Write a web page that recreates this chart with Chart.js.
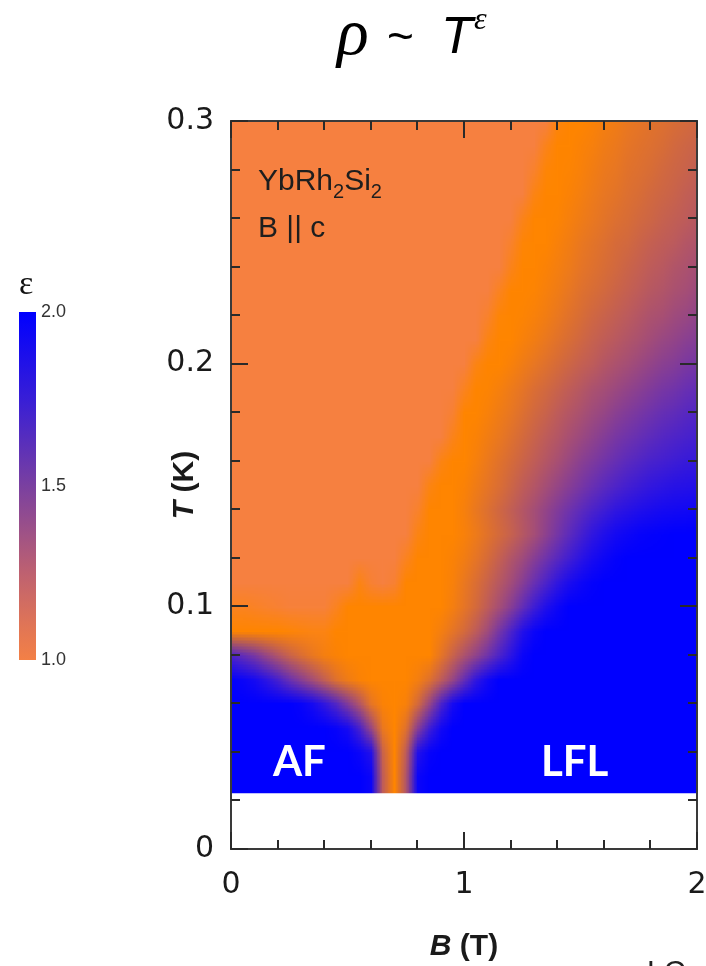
<!DOCTYPE html>
<html><head><meta charset="utf-8">
<script src="https://cdn.jsdelivr.net/npm/chart.js@4.4.1/dist/chart.umd.min.js"></script>
<style>html,body{margin:0;padding:0;background:#fff;}canvas{display:block}</style>
</head><body>
<canvas id="c" width="706" height="966"></canvas>
<script>
// ---- DATA ----
const fieldB = [0,0.05,0.1,0.15,0.2,0.25,0.3,0.35,0.4,0.45,0.5,0.55,0.6,0.65,0.7,0.75,0.8,0.85,0.9,0.95,1.0,1.05,1.1,1.15,1.2,1.25,1.3,1.35,1.4,1.45,1.5,1.55,1.6,1.65,1.7,1.75,1.8,1.85,1.9,1.95,2.0];
const temperatureT = [0.30,0.29,0.28,0.27,0.26,0.25,0.24,0.23,0.22,0.21,0.20,0.19,0.18,0.17,0.16,0.15,0.14,0.13,0.12,0.11,0.10,0.09,0.08,0.07,0.06,0.05,0.04,0.03,0.02];
// exponent epsilon, one row per temperature (top row = 0.30 K); values below 1 = region above the orange fan
const epsilon = [
 [0.9,0.9,0.9,0.9,0.9,0.9,0.9,0.9,0.9,0.9,0.9,0.9,0.9,0.9,0.9,0.9,0.9,0.9,0.9,0.9,0.9,0.9,0.9,0.9,0.9,0.9,0.9,0.9,0.98,1.0,1.0,1.02,1.05,1.07,1.1,1.12,1.14,1.16,1.18,1.2,1.22],
 [0.9,0.9,0.9,0.9,0.9,0.9,0.9,0.9,0.9,0.9,0.9,0.9,0.9,0.9,0.9,0.9,0.9,0.9,0.9,0.9,0.9,0.9,0.9,0.9,0.9,0.9,0.9,0.96,1.0,1.0,1.02,1.04,1.07,1.09,1.12,1.14,1.16,1.18,1.21,1.23,1.25],
 [0.9,0.9,0.9,0.9,0.9,0.9,0.9,0.9,0.9,0.9,0.9,0.9,0.9,0.9,0.9,0.9,0.9,0.9,0.9,0.9,0.9,0.9,0.9,0.9,0.9,0.9,0.93,0.99,1.0,1.01,1.03,1.06,1.09,1.11,1.14,1.16,1.18,1.21,1.23,1.25,1.28],
 [0.9,0.9,0.9,0.9,0.9,0.9,0.9,0.9,0.9,0.9,0.9,0.9,0.9,0.9,0.9,0.9,0.9,0.9,0.9,0.9,0.9,0.9,0.9,0.9,0.9,0.9,0.97,1.0,1.0,1.02,1.05,1.08,1.11,1.13,1.16,1.18,1.21,1.23,1.25,1.28,1.3],
 [0.9,0.9,0.9,0.9,0.9,0.9,0.9,0.9,0.9,0.9,0.9,0.9,0.9,0.9,0.9,0.9,0.9,0.9,0.9,0.9,0.9,0.9,0.9,0.9,0.9,0.96,1.0,1.0,1.01,1.04,1.07,1.1,1.13,1.16,1.18,1.21,1.23,1.26,1.28,1.3,1.33],
 [0.9,0.9,0.9,0.9,0.9,0.9,0.9,0.9,0.9,0.9,0.9,0.9,0.9,0.9,0.9,0.9,0.9,0.9,0.9,0.9,0.9,0.9,0.9,0.9,0.93,0.99,1.0,1.0,1.03,1.06,1.1,1.13,1.16,1.19,1.21,1.24,1.27,1.29,1.31,1.34,1.36],
 [0.9,0.9,0.9,0.9,0.9,0.9,0.9,0.9,0.9,0.9,0.9,0.9,0.9,0.9,0.9,0.9,0.9,0.9,0.9,0.9,0.9,0.9,0.9,0.9,0.96,1.0,1.0,1.02,1.05,1.08,1.12,1.15,1.18,1.21,1.24,1.27,1.3,1.32,1.35,1.37,1.4],
 [0.9,0.9,0.9,0.9,0.9,0.9,0.9,0.9,0.9,0.9,0.9,0.9,0.9,0.9,0.9,0.9,0.9,0.9,0.9,0.9,0.9,0.9,0.9,0.95,1.0,1.0,1.01,1.04,1.07,1.11,1.15,1.18,1.21,1.24,1.27,1.3,1.33,1.35,1.38,1.4,1.43],
 [0.9,0.9,0.9,0.9,0.9,0.9,0.9,0.9,0.9,0.9,0.9,0.9,0.9,0.9,0.9,0.9,0.9,0.9,0.9,0.9,0.9,0.9,0.93,0.99,1.0,1.01,1.03,1.06,1.1,1.14,1.18,1.22,1.25,1.28,1.31,1.34,1.37,1.39,1.42,1.44,1.47],
 [0.9,0.9,0.9,0.9,0.9,0.9,0.9,0.9,0.9,0.9,0.9,0.9,0.9,0.9,0.9,0.9,0.9,0.9,0.9,0.9,0.9,0.9,0.97,1.0,1.0,1.03,1.06,1.1,1.14,1.18,1.22,1.26,1.29,1.32,1.35,1.38,1.41,1.44,1.46,1.49,1.51],
 [0.9,0.9,0.9,0.9,0.9,0.9,0.9,0.9,0.9,0.9,0.9,0.9,0.9,0.9,0.9,0.9,0.9,0.9,0.9,0.9,0.9,0.97,1.0,1.0,1.03,1.07,1.11,1.15,1.19,1.23,1.27,1.3,1.34,1.37,1.4,1.43,1.46,1.49,1.51,1.54,1.56],
 [0.9,0.9,0.9,0.9,0.9,0.9,0.9,0.9,0.9,0.9,0.9,0.9,0.9,0.9,0.9,0.9,0.9,0.9,0.9,0.9,0.95,1.0,1.01,1.04,1.08,1.12,1.17,1.21,1.25,1.29,1.33,1.37,1.4,1.43,1.46,1.49,1.52,1.55,1.57,1.6,1.62],
 [0.9,0.9,0.9,0.9,0.9,0.9,0.9,0.9,0.9,0.9,0.9,0.9,0.9,0.9,0.9,0.9,0.9,0.9,0.9,0.92,1.0,1.0,1.03,1.07,1.11,1.16,1.21,1.25,1.3,1.34,1.38,1.42,1.45,1.49,1.52,1.55,1.58,1.61,1.63,1.66,1.68],
 [0.9,0.9,0.9,0.9,0.9,0.9,0.9,0.9,0.9,0.9,0.9,0.9,0.9,0.9,0.9,0.9,0.9,0.9,0.9,0.96,1.0,1.02,1.06,1.1,1.15,1.2,1.25,1.3,1.34,1.39,1.43,1.47,1.51,1.55,1.58,1.61,1.64,1.67,1.69,1.71,1.73],
 [0.9,0.9,0.9,0.9,0.9,0.9,0.9,0.9,0.9,0.9,0.9,0.9,0.9,0.9,0.9,0.9,0.9,0.9,0.97,1.0,1.0,1.04,1.09,1.14,1.19,1.24,1.29,1.34,1.39,1.44,1.49,1.53,1.57,1.61,1.65,1.68,1.71,1.73,1.75,1.77,1.78],
 [0.9,0.9,0.9,0.9,0.9,0.9,0.9,0.9,0.9,0.9,0.9,0.9,0.9,0.9,0.9,0.9,0.9,0.97,1.0,1.0,1.02,1.07,1.12,1.17,1.23,1.29,1.34,1.4,1.45,1.5,1.55,1.6,1.65,1.69,1.73,1.76,1.79,1.81,1.83,1.84,1.85],
 [0.9,0.9,0.9,0.9,0.9,0.9,0.9,0.9,0.9,0.9,0.9,0.9,0.9,0.9,0.9,0.9,0.93,1.0,1.0,1.0,1.04,1.1,1.16,1.22,1.28,1.34,1.4,1.46,1.52,1.58,1.64,1.7,1.75,1.8,1.83,1.86,1.88,1.9,1.91,1.92,1.93],
 [0.9,0.9,0.9,0.9,0.9,0.9,0.9,0.9,0.9,0.9,0.9,0.9,0.9,0.9,0.9,0.9,0.97,1.0,1.0,1.0,1.03,1.08,1.14,1.2,1.26,1.33,1.4,1.48,1.56,1.64,1.72,1.8,1.86,1.91,1.94,1.97,1.98,1.99,2.0,2.0,2.0],
 [0.9,0.9,0.9,0.9,0.9,0.9,0.9,0.9,0.9,0.9,0.9,0.9,0.9,0.9,0.9,0.95,1.0,1.0,1.0,1.02,1.06,1.12,1.19,1.27,1.35,1.42,1.5,1.58,1.66,1.74,1.82,1.89,1.94,1.98,2.0,2.0,2.0,2.0,2.0,2.0,2.0],
 [0.9,0.9,0.9,0.9,0.9,0.9,0.9,0.9,0.9,0.9,0.9,0.97,0.92,0.9,0.92,1.0,1.0,1.0,1.0,1.03,1.1,1.17,1.25,1.33,1.41,1.5,1.6,1.7,1.8,1.88,1.94,1.98,2.0,2.0,2.0,2.0,2.0,2.0,2.0,2.0,2.0],
 [0.95,0.95,0.94,0.93,0.92,0.91,0.91,0.91,0.91,0.95,1.0,1.0,1.0,1.0,1.0,1.0,1.0,1.0,1.0,1.05,1.12,1.2,1.3,1.4,1.5,1.62,1.75,1.86,1.94,2.0,2.0,2.0,2.0,2.0,2.0,2.0,2.0,2.0,2.0,2.0,2.0],
 [1.0,1.0,1.0,1.0,1.0,0.99,0.98,0.97,0.97,1.0,1.0,1.0,1.0,1.0,1.0,1.0,1.0,1.0,1.05,1.12,1.2,1.3,1.42,1.56,1.7,1.85,1.95,2.0,2.0,2.0,2.0,2.0,2.0,2.0,2.0,2.0,2.0,2.0,2.0,2.0,2.0],
 [1.7,1.62,1.55,1.45,1.35,1.25,1.17,1.1,1.05,1.02,1.0,1.0,1.0,1.0,1.0,1.0,1.0,1.0,1.12,1.25,1.37,1.47,1.58,1.7,1.82,1.95,2.0,2.0,2.0,2.0,2.0,2.0,2.0,2.0,2.0,2.0,2.0,2.0,2.0,2.0,2.0],
 [1.98,1.95,1.9,1.82,1.72,1.6,1.5,1.4,1.28,1.15,1.07,1.02,1.0,1.0,1.0,1.0,1.05,1.15,1.3,1.45,1.62,1.8,1.92,2.0,2.0,2.0,2.0,2.0,2.0,2.0,2.0,2.0,2.0,2.0,2.0,2.0,2.0,2.0,2.0,2.0,2.0],
 [2.0,2.0,2.0,2.0,2.0,2.0,1.97,1.9,1.8,1.68,1.52,1.35,1.12,1.02,1.0,1.03,1.2,1.45,1.7,1.9,2.0,2.0,2.0,2.0,2.0,2.0,2.0,2.0,2.0,2.0,2.0,2.0,2.0,2.0,2.0,2.0,2.0,2.0,2.0,2.0,2.0],
 [2.0,2.0,2.0,2.0,2.0,2.0,2.0,2.0,2.0,1.97,1.9,1.72,1.45,1.1,1.0,1.15,1.5,1.75,1.92,2.0,2.0,2.0,2.0,2.0,2.0,2.0,2.0,2.0,2.0,2.0,2.0,2.0,2.0,2.0,2.0,2.0,2.0,2.0,2.0,2.0,2.0],
 [2.0,2.0,2.0,2.0,2.0,2.0,2.0,2.0,2.0,2.0,2.0,1.95,1.85,1.25,1.0,1.3,1.85,1.97,2.0,2.0,2.0,2.0,2.0,2.0,2.0,2.0,2.0,2.0,2.0,2.0,2.0,2.0,2.0,2.0,2.0,2.0,2.0,2.0,2.0,2.0,2.0],
 [2.0,2.0,2.0,2.0,2.0,2.0,2.0,2.0,2.0,2.0,2.0,2.0,1.95,1.3,1.0,1.35,1.95,2.0,2.0,2.0,2.0,2.0,2.0,2.0,2.0,2.0,2.0,2.0,2.0,2.0,2.0,2.0,2.0,2.0,2.0,2.0,2.0,2.0,2.0,2.0,2.0],
 [2.0,2.0,2.0,2.0,2.0,2.0,2.0,2.0,2.0,2.0,2.0,2.0,1.95,1.3,1.0,1.35,1.95,2.0,2.0,2.0,2.0,2.0,2.0,2.0,2.0,2.0,2.0,2.0,2.0,2.0,2.0,2.0,2.0,2.0,2.0,2.0,2.0,2.0,2.0,2.0,2.0]
];
const lowestMeasuredT = 0.023;           // K, data stop here
const xMajorTicks = [0, 1, 2];
const xMinorTicks = [0.2, 0.4, 0.6, 0.8, 1.2, 1.4, 1.6, 1.8];
const yMajorTicks = [0, 0.1, 0.2, 0.3];
const yTickLabels = ['0', '0.1', '0.2', '0.3'];
const yMinorTicks = [0.02, 0.04, 0.06, 0.08, 0.12, 0.14, 0.16, 0.18, 0.22, 0.24, 0.26, 0.28];
const colorbarTicks = [1.0, 1.5, 2.0];
const colorbarTickLabels = ['1.0', '1.5', '2.0'];
const phaseLabels = [{ text: 'AF', B: 0.18, T: 0.03 }, { text: 'LFL', B: 1.33, T: 0.03 }];

// ---- STYLE ----
const cmapStops = [
  [0.9, [246,128,64]], [1.0, [255,133,0]], [1.1, [234,120,32]], [1.2, [212,106,60]],
  [1.3, [190,92,90]], [1.4, [165,78,118]], [1.5, [135,62,148]], [1.6, [105,48,178]],
  [1.7, [76,35,202]], [1.8, [48,22,224]], [1.9, [22,10,242]], [2.0, [0,0,255]]
];
const colorbarStops = [
  [1.0, 'rgb(243,128,70)'], [1.1, 'rgb(224,117,86)'], [1.25, 'rgb(190,97,112)'],
  [1.5, 'rgb(122,64,160)'], [1.75, 'rgb(56,30,214)'], [2.0, 'rgb(0,0,255)']
];
function cmap(v) {
  if (v <= cmapStops[0][0]) return cmapStops[0][1];
  for (let i = 1; i < cmapStops.length; i++) {
    if (v <= cmapStops[i][0]) {
      const [a, ca] = cmapStops[i-1], [b, cb] = cmapStops[i];
      const t = (v - a) / (b - a);
      return ca.map((c, k) => Math.round(c + (cb[k] - c) * t));
    }
  }
  return cmapStops[cmapStops.length-1][1];
}
const SANS = "'Liberation Sans', Arial, sans-serif";
const TICKFONT = "'DejaVu Sans', 'Liberation Sans', sans-serif";
const SERIF = "'Liberation Serif', 'Times New Roman', serif";

const heatmapPlugin = {
  id: 'heatmap',
  beforeDatasetsDraw(chart) {
    const { ctx, scales: { x, y } } = chart;
    const nx = fieldB.length, ny = temperatureT.length;
    const off = document.createElement('canvas');
    off.width = nx; off.height = ny;
    const octx = off.getContext('2d');
    const img = octx.createImageData(nx, ny);
    for (let r = 0; r < ny; r++) for (let c = 0; c < nx; c++) {
      const col = cmap(epsilon[r][c]); const k = (r * nx + c) * 4;
      img.data[k] = col[0]; img.data[k+1] = col[1]; img.data[k+2] = col[2]; img.data[k+3] = 255;
    }
    octx.putImageData(img, 0, 0);
    const dB = fieldB[1] - fieldB[0], dT = temperatureT[0] - temperatureT[1];
    const x0 = x.getPixelForValue(fieldB[0] - dB / 2), x1 = x.getPixelForValue(fieldB[nx-1] + dB / 2);
    const y0 = y.getPixelForValue(temperatureT[0] + dT / 2), y1 = y.getPixelForValue(temperatureT[ny-1] - dT / 2);
    const cl = x.getPixelForValue(0), cr = x.getPixelForValue(2);
    const ct = y.getPixelForValue(0.3), cb = y.getPixelForValue(lowestMeasuredT);
    ctx.save();
    ctx.beginPath(); ctx.rect(cl, ct, cr - cl, cb - ct); ctx.clip();
    ctx.imageSmoothingEnabled = true; ctx.imageSmoothingQuality = 'low';
    ctx.drawImage(off, x0, y0, x1 - x0, y1 - y0);
    ctx.restore();
  }
};

function drawParts(ctx, parts, x, y, align) {
  let w = 0;
  parts.forEach(p => { ctx.font = p[1]; w += ctx.measureText(p[0]).width; });
  let cx = align === 'center' ? x - w / 2 : x;
  parts.forEach(p => { ctx.font = p[1]; ctx.fillText(p[0], cx, y + (p[2] || 0)); cx += ctx.measureText(p[0]).width; });
}

const decorPlugin = {
  id: 'decor',
  afterDatasetsDraw(chart) {
    const { ctx, chartArea: a, scales: { x, y } } = chart;
    ctx.save();
    ctx.strokeStyle = '#3a3a3a'; ctx.lineWidth = 2;
    ctx.strokeRect(a.left, a.top, a.right - a.left, a.bottom - a.top);
    ctx.strokeStyle = '#2a2a2a'; ctx.lineWidth = 2;
    const tick = (x1, y1, x2, y2) => { ctx.beginPath(); ctx.moveTo(x1, y1); ctx.lineTo(x2, y2); ctx.stroke(); };
    [[xMajorTicks, 17], [xMinorTicks, 9]].forEach(([arr, L]) => arr.forEach(v => {
      const px = Math.round(x.getPixelForValue(v));
      tick(px, a.bottom, px, a.bottom - L); tick(px, a.top, px, a.top + L);
    }));
    [[yMajorTicks, 17], [yMinorTicks, 9]].forEach(([arr, L]) => arr.forEach(v => {
      const py = Math.round(y.getPixelForValue(v));
      tick(a.left, py, a.left + L, py); tick(a.right, py, a.right - L, py);
    }));
    ctx.fillStyle = '#1e1e1e'; ctx.textBaseline = 'alphabetic';
    drawParts(ctx, [['YbRh', `30px ${SANS}`], ['2', `20px ${SANS}`, 8], ['Si', `30px ${SANS}`], ['2', `20px ${SANS}`, 8]], 258, 190, 'left');
    drawParts(ctx, [['B || c', `30px ${SANS}`]], 258, 237, 'left');
    ctx.fillStyle = '#ffffff';
    ctx.font = `bold 42px Lato, 'Open Sans', sans-serif`;
    phaseLabels.forEach(p => ctx.fillText(p.text, x.getPixelForValue(p.B), y.getPixelForValue(p.T)));
    ctx.restore();
  },
  afterDraw(chart) {
    const { ctx, chartArea: a } = chart;
    ctx.save();
    ctx.fillStyle = '#000'; ctx.textBaseline = 'alphabetic';
    ctx.font = `italic 66px ${SERIF}`; ctx.fillText('\u03C1', 337, 54);
    ctx.font = `46px ${SANS}`; ctx.fillText('~', 387, 52);
    ctx.font = `italic 52px ${SANS}`; ctx.fillText('T', 441, 53);
    ctx.font = `italic 32px ${SERIF}`; ctx.fillText('\u03B5', 474, 29);
    ctx.fillStyle = '#1a1a1a';
    drawParts(ctx, [['B', `italic bold 30px ${SANS}`], [' (T)', `bold 30px ${SANS}`]], (a.left + a.right) / 2, 955, 'center');
    ctx.save(); ctx.translate(193, (a.top + a.bottom) / 2); ctx.rotate(-Math.PI / 2);
    drawParts(ctx, [['T', `italic bold 30px ${SANS}`], [' (K)', `bold 30px ${SANS}`]], 0, 0, 'center');
    ctx.restore();
    const cbX = 19, cbW = 17, cbTop = 312, cbBot = 660;
    const g = ctx.createLinearGradient(0, cbBot, 0, cbTop);
    colorbarStops.forEach(([v, c]) => g.addColorStop((v - 1) / 1, c));
    ctx.fillStyle = g; ctx.fillRect(cbX, cbTop, cbW, cbBot - cbTop);
    ctx.fillStyle = '#333'; ctx.font = `18px ${SANS}`; ctx.textBaseline = 'middle';
    colorbarTicks.forEach((v, i) => ctx.fillText(colorbarTickLabels[i], 41, cbBot - (v - 1) * (cbBot - cbTop)));
    ctx.fillStyle = '#111'; ctx.font = `34px ${SERIF}`; ctx.textBaseline = 'alphabetic';
    ctx.fillText('\u03B5', 19, 294);
    ctx.font = `30px ${SANS}`; ctx.textBaseline = 'top'; ctx.fillStyle = '#222';
    ctx.fillText('LC', 647, 958);
    ctx.restore();
  }
};

new Chart(document.getElementById('c'), {
  type: 'scatter',
  data: { datasets: [{ label: 'epsilon', data: [], pointRadius: 0 }] },
  options: {
    responsive: false, animation: false, devicePixelRatio: 1,
    layout: { padding: { left: 0, top: 121, right: 9, bottom: 0 } },
    plugins: { legend: { display: false }, tooltip: { enabled: false }, title: { display: false } },
    scales: {
      x: {
        type: 'linear', min: 0, max: 2,
        afterFit(s) { s.height = 117; s.paddingLeft = 0; s.paddingRight = 0; },
        grid: { display: false, drawTicks: false }, border: { display: false },
        ticks: { stepSize: 1, padding: 18, color: '#1a1a1a', font: { family: TICKFONT, size: 30 },
          callback: v => (xMajorTicks.includes(v) ? String(v) : '') }
      },
      y: {
        type: 'linear', min: 0, max: 0.3,
        afterFit(s) { s.width = 231; s.paddingTop = 0; s.paddingBottom = 0; },
        grid: { display: false, drawTicks: false }, border: { display: false },
        ticks: { stepSize: 0.1, padding: 17, color: '#1a1a1a', font: { family: TICKFONT, size: 30 },
          callback: v => yTickLabels[Math.round(v * 10)] }
      }
    }
  },
  plugins: [heatmapPlugin, decorPlugin]
});
</script>
</body></html>
